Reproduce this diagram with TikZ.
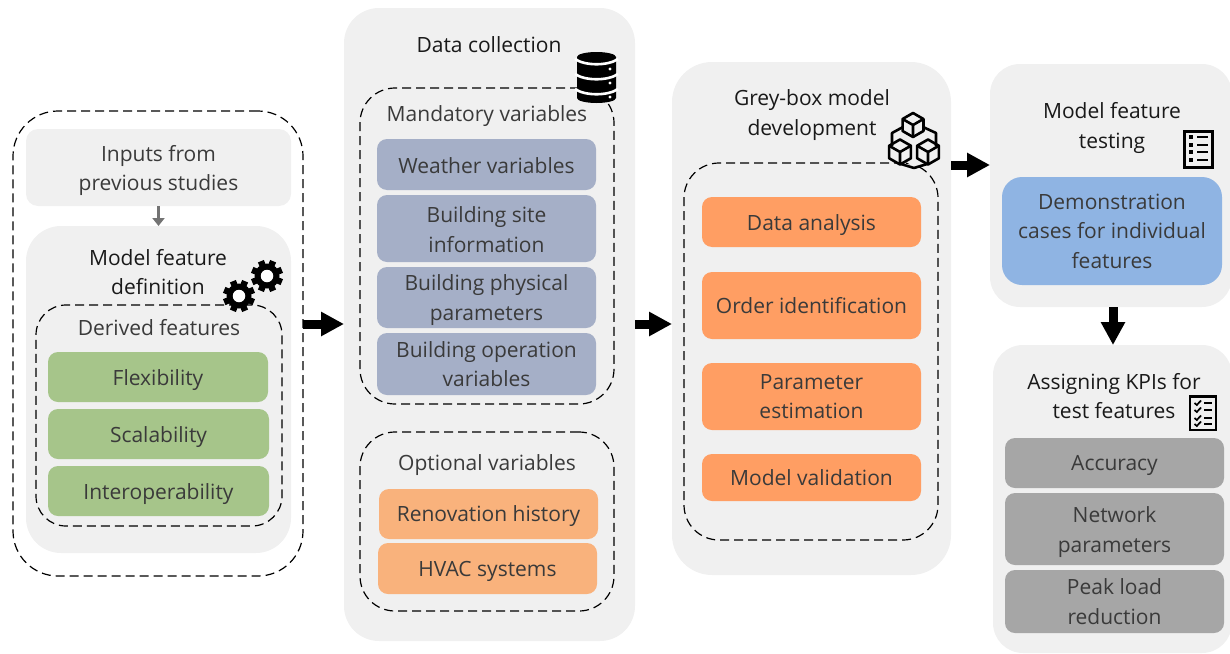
\documentclass[tikz,border=0pt]{standalone}
\usepackage{fontspec}
\setmainfont{Open Sans}
\usetikzlibrary{arrows.meta,calc}
\definecolor{panelc}{HTML}{F0F0F0}
\definecolor{greenc}{HTML}{A6C58A}
\definecolor{bluegc}{HTML}{A5AFC7}
\definecolor{lorange}{HTML}{F9B27C}
\definecolor{dorange}{HTML}{FF9E63}
\definecolor{bluec}{HTML}{8FB4E3}
\definecolor{greyc}{HTML}{A6A6A6}
\definecolor{txt}{HTML}{3A3A3A}
% empty shape: name, style, x1, y1, x2, y2
\newcommand{\rshape}[6]{\node[#2,minimum width={#5-#3},minimum height={#6-#4}] (#1) at ({(#3+#5)/2},{(#4+#6)/2}) {};}
% filled box with its text: name, style, x1, y1, x2, y2, text, downward text offset
\newcommand{\rbox}[8]{\rshape{#1}{#2}{#3}{#4}{#5}{#6}\node[basebox] (#1-t) at ({(#3+#5)/2},{(#4+#6)/2+#8}) {#7};}
\newcommand{\gearicon}[3]{%
  \fill[black] (#1,#2) circle (#3);
  \foreach \a in {0,45,...,315}{
    \fill[black,rotate around={\a+22.5:(#1,#2)}] ({#1-3.2},{#2-#3-3.5}) rectangle ({#1+3.2},{#2});
  }
  \fill[white] (#1,#2) circle (#3*0.5);
}
\newcommand{\cubeicon}[3]{%
  \draw[iconline] (#1,#2-#3) -- (#1+#3*0.87,#2-#3*0.5) -- (#1+#3*0.87,#2+#3*0.5) -- (#1,#2+#3) -- (#1-#3*0.87,#2+#3*0.5) -- (#1-#3*0.87,#2-#3*0.5) -- cycle;
  \draw[iconline] (#1-#3*0.87,#2-#3*0.5) -- (#1,#2) -- (#1+#3*0.87,#2-#3*0.5) (#1,#2) -- (#1,#2+#3);
}
\tikzset{
  x=1pt,y=-1pt,
  basebox/.style={inner sep=0pt,outer sep=0pt,align=center,text=txt,font=\fontsize{21}{29.5}\selectfont},
  panel/.style={basebox,fill=panelc,rounded corners=#1},
  dashbox/.style={basebox,draw=black,line width=1.2pt,dash pattern=on 9pt off 5pt,rounded corners=#1},
  greenbox/.style={basebox,fill=greenc,rounded corners=10pt},
  slatebox/.style={basebox,fill=bluegc,rounded corners=10pt},
  lightbox/.style={basebox,fill=lorange,rounded corners=10pt},
  darkbox/.style={basebox,fill=dorange,rounded corners=10pt},
  skybox/.style={basebox,fill=bluec,rounded corners=20pt},
  greybox/.style={basebox,fill=greyc,rounded corners=10pt},
  title/.style={basebox,text=black!90},
  bigarrow/.style={line width=9pt,black,-{Triangle[length=23pt,width=23pt]}},
  smallarrow/.style={line width=3pt,black!55,-{Triangle[length=8pt,width=12pt]}},
  iconline/.style={draw=black,line width=2.6pt,line join=round},
}
\begin{document}
\begin{tikzpicture}
\useasboundingbox (0,0) rectangle (1230,653);
% column 1
\rshape{outer}{dashbox=45pt}{13}{111}{303}{576}
\rbox{inputs}{panel=12pt}{26}{129}{291}{206}{Inputs from\\previous studies}{3}
\rshape{mfd}{panel=35pt}{26}{226}{291}{553}
\node[title] (mfdt) at (158,272) {Model feature\\definition};
\rshape{derived}{dashbox=30pt}{36}{305}{282}{526}
\node[basebox] (derivedt) at (159,328) {Derived features};
\rbox{flex}{greenbox}{48}{352}{268}{402}{Flexibility}{3}
\rbox{scal}{greenbox}{48}{409}{269}{459}{Scalability}{3}
\rbox{inter}{greenbox}{48}{466}{269}{516}{Interoperability}{3}
\draw[smallarrow] (inputs.south) -- (mfd.north);
\gearicon{239}{296}{12.5}
\gearicon{267}{276}{12.5}
% column 2
\rshape{data}{panel=35pt}{344}{8}{635}{641}
\node[title] (datat) at (489,45) {Data collection};
\rshape{mand}{dashbox=35pt}{360}{88}{614}{404}
\node[basebox] (mandt) at (487,116) {Mandatory variables};
\rbox{weather}{slatebox}{377}{139}{596}{190}{Weather variables}{1}
\rbox{site}{slatebox}{377}{195}{596}{262}{Building site\\information}{1}
\rbox{phys}{slatebox}{377}{267}{596}{328}{Building physical\\parameters}{2.5}
\rbox{oper}{slatebox}{377}{333}{596}{395}{Building operation\\variables}{0}
\rshape{opt}{dashbox=35pt}{360}{432}{614}{611}
\node[basebox] (optt) at (487,465) {Optional variables};
\rbox{reno}{lightbox}{379}{489}{598}{539}{Renovation history}{2}
\rbox{hvac}{lightbox}{378}{543}{597}{594}{HVAC systems}{3}
% database icon
\fill[black] (577,57) arc[start angle=180,end angle=0,x radius=19.5,y radius=-5] -- (616,98) arc[start angle=0,end angle=180,x radius=19.5,y radius=5] -- cycle;
\foreach \yy in {59,74,89}{
  \draw[white,line width=2.6pt] (575,\yy) .. controls (585,\yy+7) and (608,\yy+7) .. (618,\yy);
}
\foreach \yy in {69,83,97}{ \fill[white] (610,\yy) circle (1.7); }
% column 3
\rshape{grey}{panel=40pt}{672}{62}{951}{575}
\node[title] (greyt) at (812,115) {Grey-box model\\development};
\rshape{dev}{dashbox=35pt}{684}{163}{938}{540}
\rbox{analysis}{darkbox}{702}{197}{921}{247}{Data analysis}{3}
\rbox{order}{darkbox}{702}{272}{921}{339}{Order identification}{0}
\rbox{param}{darkbox}{702}{363}{921}{430}{Parameter\\estimation}{0}
\rbox{valid}{darkbox}{702}{454}{921}{501}{Model validation}{0}
% cubes icon
\fill[panelc] (892,150) -- (892,130) -- (913,118) -- (936,130) -- (936,150) -- (913,167) -- cycle;
\draw[iconline] (903,127) -- (892,133) -- (892,146);
\draw[iconline] (923,127) -- (936,133) -- (936,146);
\cubeicon{913}{125}{12}
\draw[iconline] (901,164) -- (914,168) -- (927,164);
\cubeicon{900}{152}{12.5}
\cubeicon{928}{152}{12.5}
% column 4
\rshape{test}{panel=30pt}{990}{64}{1232}{307}
\node[title] (testt) at (1112,128) {Model feature\\testing};
\rbox{demo}{skybox}{1002}{177}{1222}{285}{Demonstration\\cases for individual\\features}{0}
\rshape{kpi}{panel=30pt}{993}{345}{1232}{653}
\node[title] (kpit) at (1114,396) {Assigning KPIs for\\test features};
\rbox{acc}{greybox}{1005}{438}{1224}{488}{Accuracy}{2}
\rbox{net}{greybox}{1005}{493}{1224}{565}{Network\\parameters}{3}
\rbox{peak}{greybox}{1005}{570}{1224}{633}{Peak load\\reduction}{0}
% list icon
\draw[black,line width=3pt] (1184.5,131.5) rectangle (1212.5,167);
\foreach \yy in {137,145,152,160}{
  \fill[black] (1189,\yy-2.2) rectangle (1193.4,\yy+2.2);
  \draw[black,line width=1.8pt] (1197,\yy) -- (1208,\yy);
}
% checklist icon
\draw[black,line width=2.8pt] (1190,396.5) rectangle (1216,430);
\foreach \yy in {403,410,418,424}{
  \draw[black,line width=1.7pt] (1194.5,\yy) -- (1196.8,\yy+2) -- (1201,\yy-2.5);
  \draw[black,line width=1.5pt] (1204,\yy) -- (1212,\yy);
}
% connectors
\coordinate (a1) at (outer.east |- 0,324);
\coordinate (a2) at (data.west |- 0,324);
\coordinate (a3) at (data.east |- 0,324);
\coordinate (a4) at (grey.west |- 0,324);
\coordinate (a5) at (grey.east |- 0,165);
\coordinate (a6) at (test.west |- 0,165);
\draw[bigarrow] (a1) -- (a2);
\draw[bigarrow] (a3) -- (a4);
\draw[bigarrow] (a5) -- (a6);
\coordinate (a7) at (1113,0 |- test.south);
\coordinate (a8) at (1113,0 |- kpi.north);
\draw[bigarrow] (a7) -- (a8);
\end{tikzpicture}
\end{document}
